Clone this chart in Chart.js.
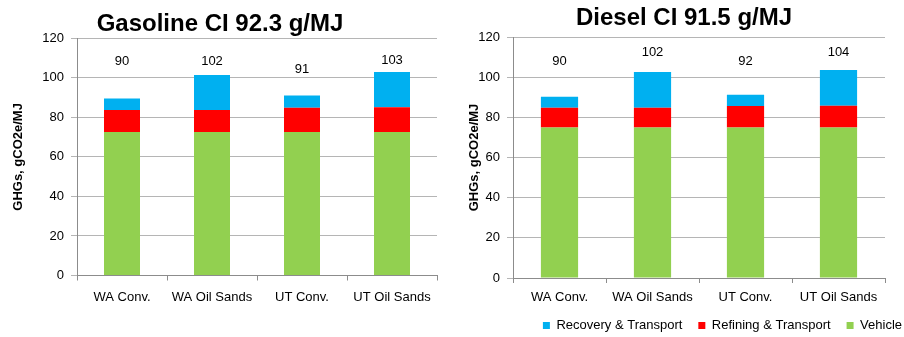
<!DOCTYPE html>
<html>
<head>
<meta charset="utf-8">
<script src="https://cdn.jsdelivr.net/npm/chart.js@4.4.1/dist/chart.umd.min.js"></script>
<style>
  html, body { margin: 0; padding: 0; background: #fff; overflow: hidden; }
  body { width: 904px; height: 337px; position: relative; }
  canvas { position: absolute; top: 0; }
  #gasChart { left: 0; }
  #dieselChart { left: 450px; }
</style>
</head>
<body>
<canvas id="gasChart" width="450" height="337"></canvas>
<canvas id="dieselChart" width="468" height="337"></canvas>
<script>
const categories = ["WA Conv.", "WA Oil Sands", "UT Conv.", "UT Oil Sands"];

// gasoline, g CO2e/MJ
const gasVehicle = [72.6, 72.6, 72.6, 72.6];
const gasRefining = [11.1, 11.1, 12.3, 12.5];
const gasRecovery = [5.8, 17.7, 6.1, 17.9];
const gasTotals = ["90", "102", "91", "103"];

// diesel, g CO2e/MJ
const dieselVehicle = [74.9, 74.9, 74.9, 74.9];
const dieselRefining = [9.9, 9.9, 10.8, 10.9];
const dieselRecovery = [5.5, 17.8, 5.6, 17.8];
const dieselTotals = ["90", "102", "92", "104"];

const yTicks = [0, 20, 40, 60, 80, 100, 120];

const gridGray = "#b5b5b5";
const axisGray = "#8c8c8c";

Chart.defaults.font.family = "Arial, 'Liberation Sans', sans-serif";
Chart.defaults.color = "#000";

// the total above each bar
function totalsLabels(texts, levels) {
  return {
    id: "totals",
    afterDatasetsDraw(chart) {
      const { ctx, scales: { x, y } } = chart;
      ctx.save();
      ctx.font = "13px Arial, 'Liberation Sans', sans-serif";
      ctx.fillStyle = "#000";
      ctx.textAlign = "center";
      ctx.textBaseline = "middle";
      texts.forEach((t, i) => {
        ctx.fillText(t, x.getPixelForValue(i), y.getPixelForValue(levels[i]));
      });
      ctx.restore();
    }
  };
}

function datasets(vehicle, refining, recovery) {
  return [
    { label: "Vehicle", data: vehicle, backgroundColor: "#92D050" },
    { label: "Refining & Transport", data: refining, backgroundColor: "#FF0000" },
    { label: "Recovery & Transport", data: recovery, backgroundColor: "#00B0F0" }
  ].map(d => Object.assign(d, { barPercentage: 0.4, categoryPercentage: 1 }));
}

function scales(yWidth, yTitlePad, xHeight, xPad) {
  return {
    x: {
      stacked: true,
      grid: { offset: true, drawOnChartArea: false, color: axisGray, tickLength: 5 },
      border: { color: axisGray },
      ticks: { font: { size: 13 }, padding: xPad, maxRotation: 0, autoSkip: false },
      afterFit: s => { s.height = xHeight; }
    },
    y: {
      stacked: true,
      min: yTicks[0],
      max: yTicks[yTicks.length - 1],
      ticks: { stepSize: yTicks[1] - yTicks[0], font: { size: 13 }, padding: 7 },
      grid: { color: gridGray, tickLength: 6 },
      border: { color: axisGray },
      title: {
        display: true,
        text: "GHGs, gCO2e/MJ",
        font: { size: 13, weight: "bold" },
        padding: { top: yTitlePad, bottom: 0 }
      },
      afterFit: s => { s.width = yWidth; }
    }
  };
}

new Chart(document.getElementById("gasChart"), {
  type: "bar",
  data: { labels: categories, datasets: datasets(gasVehicle, gasRefining, gasRecovery) },
  options: {
    responsive: false,
    animation: false,
    layout: { padding: { left: 3, right: 13, top: 0, bottom: 0 } },
    plugins: {
      legend: { display: false },
      tooltip: { enabled: false },
      title: {
        display: true,
        text: "Gasoline CI 92.3 g/MJ",
        font: { size: 24, weight: "bold" },
        padding: { top: 9.5, bottom: 0 }
      }
    },
    scales: scales(74, 7.7, 61.5, 9)
  },
  plugins: [totalsLabels(gasTotals, [108.5, 108.5, 104.5, 108.8])]
});

const dieselScales = scales(63, 16.2, 25, 7);
// empty box on the right so the legend can run past the plot
dieselScales.pad = {
  position: "right",
  display: true,
  grid: { display: false },
  border: { display: false },
  ticks: { display: false },
  afterFit: s => { s.width = 33; }
};

new Chart(document.getElementById("dieselChart"), {
  type: "bar",
  data: { labels: categories, datasets: datasets(dieselVehicle, dieselRefining, dieselRecovery) },
  options: {
    responsive: false,
    animation: false,
    layout: { padding: { left: 0, right: 0, top: 0, bottom: -5 } },
    plugins: {
      tooltip: { enabled: false },
      title: {
        display: true,
        text: "Diesel CI 91.5 g/MJ",
        font: { size: 24, weight: "bold" },
        padding: { top: 4, bottom: 4.2 }
      },
      legend: {
        position: "bottom",
        align: "end",
        reverse: true,
        labels: { boxWidth: 7, boxHeight: 7, padding: 16, font: { size: 13 } }
      }
    },
    scales: dieselScales
  },
  plugins: [totalsLabels(dieselTotals, [107.8, 112.5, 107.8, 112.5])]
});
</script>
</body>
</html>
